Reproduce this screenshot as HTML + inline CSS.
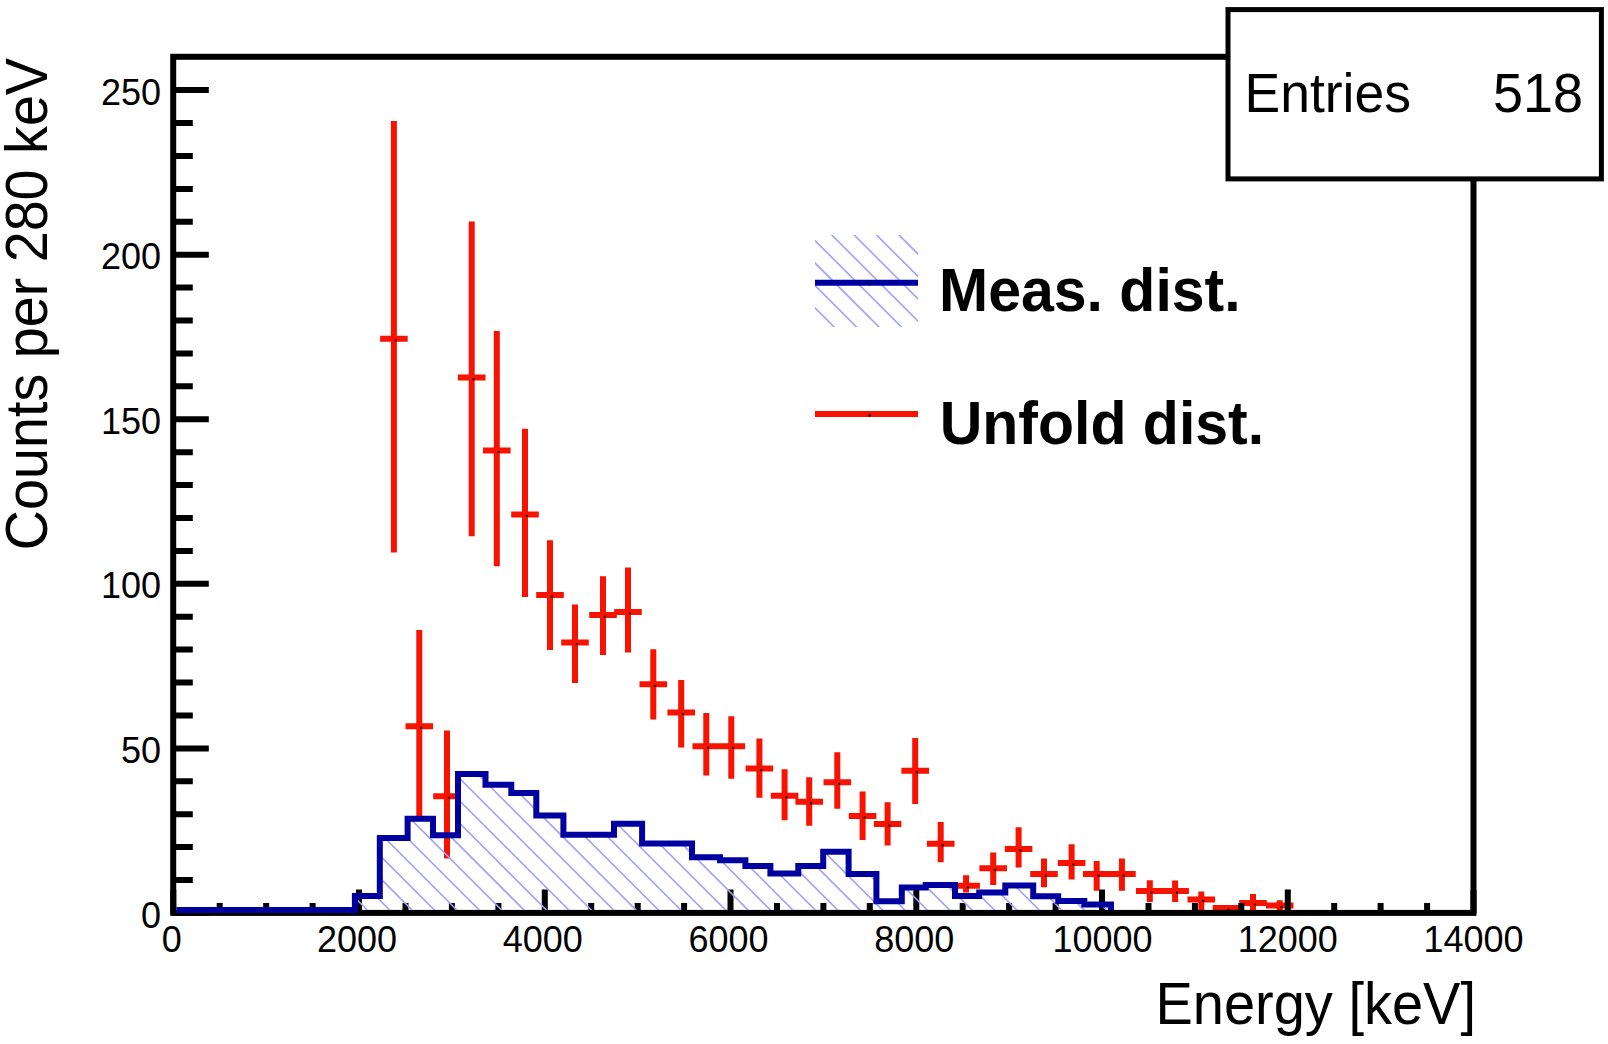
<!DOCTYPE html>
<html><head><meta charset="utf-8"><style>
html,body{margin:0;padding:0;background:#fff;}
body{width:1608px;height:1044px;overflow:hidden;font-family:"Liberation Sans",sans-serif;}
svg{display:block;}
</style></head><body>
<svg width="1608" height="1044" viewBox="0 0 1608 1044">
<rect width="1608" height="1044" fill="#fff"/>
<defs><clipPath id="hc"><polygon points="173.3,910.0 173.3,910.0 199.3,910.0 199.3,910.0 225.3,910.0 225.3,910.0 251.3,910.0 251.3,910.0 277.3,910.0 277.3,910.0 303.3,910.0 303.3,910.0 329.3,910.0 329.3,910.0 354.9,910.0 354.9,896.1 379.8,896.1 379.8,838.0 407.6,838.0 407.6,818.7 433.0,818.7 433.0,835.2 458.0,835.2 458.0,774.0 485.5,774.0 485.5,784.8 511.3,784.8 511.3,793.0 536.3,793.0 536.3,815.4 563.4,815.4 563.4,834.8 589.0,834.8 589.0,834.8 614.0,834.8 614.0,823.8 642.1,823.8 642.1,843.4 667.0,843.4 667.0,843.4 692.0,843.4 692.0,857.2 720.0,857.2 720.0,860.3 745.4,860.3 745.4,865.9 770.4,865.9 770.4,873.5 798.3,873.5 798.3,865.9 823.2,865.9 823.2,851.7 848.6,851.7 848.6,874.1 876.4,874.1 876.4,901.3 901.8,901.3 901.8,887.6 925.7,887.6 925.7,885.0 955.0,885.0 955.0,895.9 979.2,895.9 979.2,892.6 1005.3,892.6 1005.3,885.5 1033.2,885.5 1033.2,896.3 1058.2,896.3 1058.2,901.1 1084.3,901.1 1084.3,904.6 1111.0,904.6 1111.0,910.0"/></clipPath>
<clipPath id="lc"><rect x="815" y="235" width="103" height="92"/></clipPath></defs>
<path d="M393.9 121.1V552.6M380.1 338.7H407.7M419.3 630.0V817.0M405.5 726.3H433.1M447.0 730.5V858.6M433.2 796.2H460.8M471.7 221.6V536.2M457.9 377.5H485.5M496.8 331.1V566.2M483.0 450.4H510.6M525.0 428.8V597.0M511.2 514.4H538.8M550.0 540.2V650.0M536.2 595.0H563.8M575.0 604.5V683.0M561.2 642.5H588.8M603.0 576.3V655.0M589.2 615.0H616.8M628.0 567.5V652.5M614.2 612.0H641.8M653.3 649.3V719.5M639.5 684.3H667.1M681.2 680.0V747.5M667.4 712.5H695.0M706.3 713.0V775.5M692.5 746.2H720.1M731.3 716.3V778.7M717.5 746.2H745.1M759.4 738.4V797.8M745.6 768.4H773.2M784.6 769.2V820.2M770.8 795.8H798.4M809.2 777.3V825.8M795.4 801.7H823.0M837.3 752.2V808.8M823.5 782.3H851.1M862.6 791.4V840.0M848.8 816.0H876.4M887.6 802.3V845.4M873.8 824.1H901.4M915.2 738.1V804.0M901.4 770.7H929.0M940.7 821.9V862.2M926.9 843.7H954.5M966.1 875.2V892.6M952.3 885.7H979.9M993.2 852.4V885.0M979.4 868.3H1007.0M1018.6 827.3V867.6M1004.8 849.1H1032.4M1044.0 858.5V887.2M1030.2 874.1H1057.8M1071.6 844.3V879.5M1057.8 862.9H1085.4M1096.7 861.0V890.7M1082.9 874.1H1110.5M1121.9 858.4V890.7M1108.1 874.1H1135.7M1149.8 880.2V902.0M1136.0 891.0H1163.6M1175.1 880.5V902.0M1161.3 891.0H1188.9M1201.3 891.5V910.2M1187.5 899.4H1215.1M1226.5 905.0V910.5M1212.7 908.1H1240.3M1253.0 894.1V910.2M1239.2 902.9H1266.8M1279.7 900.2V910.0M1265.9 905.5H1293.5" stroke="#f71300" stroke-width="6" fill="none"/>
<rect x="394.7" y="339.3" width="2" height="2" fill="#000"/><rect x="420.1" y="726.9" width="2" height="2" fill="#000"/><rect x="447.8" y="796.8" width="2" height="2" fill="#000"/><rect x="472.5" y="378.1" width="2" height="2" fill="#000"/><rect x="497.6" y="451.0" width="2" height="2" fill="#000"/><rect x="525.8" y="515.0" width="2" height="2" fill="#000"/><rect x="550.8" y="595.6" width="2" height="2" fill="#000"/><rect x="575.8" y="643.1" width="2" height="2" fill="#000"/><rect x="603.8" y="615.6" width="2" height="2" fill="#000"/><rect x="628.8" y="612.6" width="2" height="2" fill="#000"/><rect x="654.1" y="684.9" width="2" height="2" fill="#000"/><rect x="682.0" y="713.1" width="2" height="2" fill="#000"/><rect x="707.1" y="746.8" width="2" height="2" fill="#000"/><rect x="732.1" y="746.8" width="2" height="2" fill="#000"/><rect x="760.2" y="769.0" width="2" height="2" fill="#000"/><rect x="785.4" y="796.4" width="2" height="2" fill="#000"/><rect x="810.0" y="802.3" width="2" height="2" fill="#000"/><rect x="838.1" y="782.9" width="2" height="2" fill="#000"/><rect x="863.4" y="816.6" width="2" height="2" fill="#000"/><rect x="888.4" y="824.7" width="2" height="2" fill="#000"/><rect x="916.0" y="771.3" width="2" height="2" fill="#000"/><rect x="941.5" y="844.3" width="2" height="2" fill="#000"/><rect x="966.9" y="886.3" width="2" height="2" fill="#000"/><rect x="994.0" y="868.9" width="2" height="2" fill="#000"/><rect x="1019.4" y="849.7" width="2" height="2" fill="#000"/><rect x="1044.8" y="874.7" width="2" height="2" fill="#000"/><rect x="1072.4" y="863.5" width="2" height="2" fill="#000"/><rect x="1097.5" y="874.7" width="2" height="2" fill="#000"/><rect x="1122.7" y="874.7" width="2" height="2" fill="#000"/><rect x="1150.6" y="891.6" width="2" height="2" fill="#000"/><rect x="1175.9" y="891.6" width="2" height="2" fill="#000"/><rect x="1202.1" y="900.0" width="2" height="2" fill="#000"/><rect x="1227.3" y="908.7" width="2" height="2" fill="#000"/><rect x="1253.8" y="903.5" width="2" height="2" fill="#000"/><rect x="1280.5" y="906.1" width="2" height="2" fill="#000"/>
<rect x="173.2" y="56.8" width="1300.3" height="856.1" fill="none" stroke="#000" stroke-width="6"/>
<path d="M173.3 912.9H208.8M173.3 880.0H192.8M173.3 847.1H192.8M173.3 814.2H192.8M173.3 781.3H192.8M173.3 748.4H208.8M173.3 715.4H192.8M173.3 682.5H192.8M173.3 649.6H192.8M173.3 616.7H192.8M173.3 583.8H208.8M173.3 550.9H192.8M173.3 518.0H192.8M173.3 485.1H192.8M173.3 452.2H192.8M173.3 419.2H208.8M173.3 386.3H192.8M173.3 353.4H192.8M173.3 320.5H192.8M173.3 287.6H192.8M173.3 254.7H208.8M173.3 221.8H192.8M173.3 188.9H192.8M173.3 156.0H192.8M173.3 123.1H192.8M173.3 90.1H208.8M173.3 912.9V889.4M219.7 912.9V902.9M266.2 912.9V902.9M312.6 912.9V902.9M359.0 912.9V889.4M405.5 912.9V902.9M451.9 912.9V902.9M498.4 912.9V902.9M544.8 912.9V889.4M591.2 912.9V902.9M637.7 912.9V902.9M684.1 912.9V902.9M730.5 912.9V889.4M777.0 912.9V902.9M823.4 912.9V902.9M869.8 912.9V902.9M916.3 912.9V889.4M962.7 912.9V902.9M1009.1 912.9V902.9M1055.6 912.9V902.9M1102.0 912.9V889.4M1148.5 912.9V902.9M1194.9 912.9V902.9M1241.3 912.9V902.9M1287.8 912.9V889.4M1334.2 912.9V902.9M1380.6 912.9V902.9M1427.1 912.9V902.9M1473.5 912.9V889.4" stroke="#000" stroke-width="6" fill="none"/>
<path clip-path="url(#hc)" d="M170.0 -205.6L1120.0 744.4M170.0 -183.2L1120.0 766.8M170.0 -160.8L1120.0 789.2M170.0 -138.4L1120.0 811.6M170.0 -116.0L1120.0 834.0M170.0 -93.6L1120.0 856.4M170.0 -71.2L1120.0 878.8M170.0 -48.8L1120.0 901.2M170.0 -26.4L1120.0 923.6M170.0 -4.0L1120.0 946.0M170.0 18.4L1120.0 968.4M170.0 40.8L1120.0 990.8M170.0 63.2L1120.0 1013.2M170.0 85.6L1120.0 1035.6M170.0 108.0L1120.0 1058.0M170.0 130.4L1120.0 1080.4M170.0 152.8L1120.0 1102.8M170.0 175.2L1120.0 1125.2M170.0 197.6L1120.0 1147.6M170.0 220.0L1120.0 1170.0M170.0 242.4L1120.0 1192.4M170.0 264.8L1120.0 1214.8M170.0 287.2L1120.0 1237.2M170.0 309.6L1120.0 1259.6M170.0 332.0L1120.0 1282.0M170.0 354.4L1120.0 1304.4M170.0 376.8L1120.0 1326.8M170.0 399.2L1120.0 1349.2M170.0 421.6L1120.0 1371.6M170.0 444.0L1120.0 1394.0M170.0 466.4L1120.0 1416.4M170.0 488.8L1120.0 1438.8M170.0 511.2L1120.0 1461.2M170.0 533.6L1120.0 1483.6M170.0 556.0L1120.0 1506.0M170.0 578.4L1120.0 1528.4M170.0 600.8L1120.0 1550.8M170.0 623.2L1120.0 1573.2M170.0 645.6L1120.0 1595.6M170.0 668.0L1120.0 1618.0M170.0 690.4L1120.0 1640.4M170.0 712.8L1120.0 1662.8M170.0 735.2L1120.0 1685.2M170.0 757.6L1120.0 1707.6M170.0 780.0L1120.0 1730.0M170.0 802.4L1120.0 1752.4M170.0 824.8L1120.0 1774.8M170.0 847.2L1120.0 1797.2M170.0 869.6L1120.0 1819.6M170.0 892.0L1120.0 1842.0M170.0 914.4L1120.0 1864.4M170.0 936.8L1120.0 1886.8" stroke="#a0a0ff" stroke-width="1.6" fill="none"/>
<path d="M176.3 910.0V910.0H199.3V910.0H225.3V910.0H251.3V910.0H277.3V910.0H303.3V910.0H329.3V910.0H354.9V896.1H379.8V838.0H407.6V818.7H433.0V835.2H458.0V774.0H485.5V784.8H511.3V793.0H536.3V815.4H563.4V834.8H589.0V834.8H614.0V823.8H642.1V843.4H667.0V843.4H692.0V857.2H720.0V860.3H745.4V865.9H770.4V873.5H798.3V865.9H823.2V851.7H848.6V874.1H876.4V901.3H901.8V887.6H925.7V885.0H955.0V895.9H979.2V892.6H1005.3V885.5H1033.2V896.3H1058.2V901.1H1084.3V904.6H1111.0V910.0" stroke="#0000a0" stroke-width="6" fill="none" stroke-linejoin="miter"/>
<path clip-path="url(#lc)" d="M800.0 68.8L930.0 198.8M800.0 91.2L930.0 221.2M800.0 113.6L930.0 243.6M800.0 136.0L930.0 266.0M800.0 158.4L930.0 288.4M800.0 180.8L930.0 310.8M800.0 203.2L930.0 333.2M800.0 225.6L930.0 355.6M800.0 248.0L930.0 378.0M800.0 270.4L930.0 400.4M800.0 292.8L930.0 422.8M800.0 315.2L930.0 445.2M800.0 337.6L930.0 467.6M800.0 360.0L930.0 490.0" stroke="#a0a0ff" stroke-width="1.6" fill="none"/>
<path d="M815 282.7H918" stroke="#0000a0" stroke-width="6"/>
<path d="M815 414H918" stroke="#f71300" stroke-width="6"/>
<rect x="868.5" y="283" width="2.2" height="2.2" fill="#000"/><rect x="868.5" y="414.3" width="2.2" height="2.2" fill="#000"/>
<text transform="translate(161 927.5) scale(0.96 1)" font-family="Liberation Sans, sans-serif" font-size="37.5" text-anchor="end">0</text>
<text transform="translate(161 763.0) scale(0.96 1)" font-family="Liberation Sans, sans-serif" font-size="37.5" text-anchor="end">50</text>
<text transform="translate(161 598.4) scale(0.96 1)" font-family="Liberation Sans, sans-serif" font-size="37.5" text-anchor="end">100</text>
<text transform="translate(161 433.9) scale(0.96 1)" font-family="Liberation Sans, sans-serif" font-size="37.5" text-anchor="end">150</text>
<text transform="translate(161 269.3) scale(0.96 1)" font-family="Liberation Sans, sans-serif" font-size="37.5" text-anchor="end">200</text>
<text transform="translate(161 104.7) scale(0.96 1)" font-family="Liberation Sans, sans-serif" font-size="37.5" text-anchor="end">250</text>
<text transform="translate(171.8 952.3) scale(0.96 1)" font-family="Liberation Sans, sans-serif" font-size="37.5" text-anchor="middle">0</text>
<text transform="translate(357.0 952.3) scale(0.96 1)" font-family="Liberation Sans, sans-serif" font-size="37.5" text-anchor="middle">2000</text>
<text transform="translate(542.8 952.3) scale(0.96 1)" font-family="Liberation Sans, sans-serif" font-size="37.5" text-anchor="middle">4000</text>
<text transform="translate(728.5 952.3) scale(0.96 1)" font-family="Liberation Sans, sans-serif" font-size="37.5" text-anchor="middle">6000</text>
<text transform="translate(914.3 952.3) scale(0.96 1)" font-family="Liberation Sans, sans-serif" font-size="37.5" text-anchor="middle">8000</text>
<text transform="translate(1102.5 952.3) scale(0.96 1)" font-family="Liberation Sans, sans-serif" font-size="37.5" text-anchor="middle">10000</text>
<text transform="translate(1287.8 952.3) scale(0.96 1)" font-family="Liberation Sans, sans-serif" font-size="37.5" text-anchor="middle">12000</text>
<text transform="translate(1473.5 952.3) scale(0.96 1)" font-family="Liberation Sans, sans-serif" font-size="37.5" text-anchor="middle">14000</text>
<text transform="translate(1476 1024) scale(1 1.045)" font-family="Liberation Sans, sans-serif" font-size="56" text-anchor="end">Energy [keV]</text>
<text transform="translate(47.1 58) rotate(-90) scale(1 1.05)" font-family="Liberation Sans, sans-serif" font-size="55.7" text-anchor="end">Counts per 280 keV</text>
<rect x="1228" y="9.6" width="373.4" height="169.3" fill="#fff" stroke="#000" stroke-width="5"/>
<text transform="translate(1244.5 112.4) scale(1 1.03)" font-family="Liberation Sans, sans-serif" font-size="53.5">Entries</text>
<text transform="translate(1583 112.4) scale(1 1.03)" font-family="Liberation Sans, sans-serif" font-size="54" text-anchor="end">518</text>
<text transform="translate(939 311) scale(1 1.04)" font-family="Liberation Sans, sans-serif" font-size="59" font-weight="bold">Meas. dist.</text>
<text transform="translate(939.7 443.9) scale(1 1.04)" font-family="Liberation Sans, sans-serif" font-size="59" font-weight="bold">Unfold dist.</text>
</svg>
</body></html>
